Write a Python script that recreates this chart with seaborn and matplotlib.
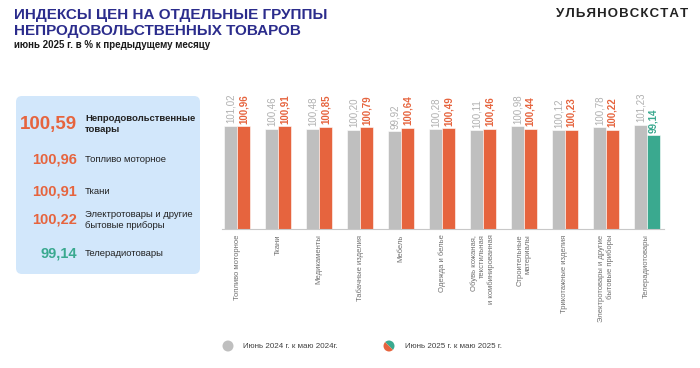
import pandas as pd
import numpy as np
from matplotlib import pyplot as plt
from matplotlib.patches import FancyBboxPatch, Circle, Wedge
import seaborn as sns

# data
categories = ['Топливо моторное', 'Ткани', 'Медикаменты', 'Табачные изделия', 'Мебель',
              'Одежда и белье', 'Обувь кожаная,\nтекстильная\nи комбинированная',
              'Строительные\nматериалы', 'Трикотажные изделия',
              'Электротовары и другие\nбытовые приборы', 'Телерадиотовары']
june2024 = [101.02, 100.46, 100.48, 100.20, 99.92, 100.28, 100.11, 100.98, 100.12, 100.78, 101.23]
june2025 = [100.96, 100.91, 100.85, 100.79, 100.64, 100.49, 100.46, 100.44, 100.23, 100.22, 99.14]
series_names = ['Июнь 2024 г. к маю 2024г.', 'Июнь 2025 г. к маю 2025 г.']

panel_values = [100.59, 100.96, 100.91, 100.22, 99.14]
panel_labels = ['Непродовольственные\nтовары', 'Топливо моторное', 'Ткани',
                'Электротовары и другие\nбытовые приборы', 'Телерадиотовары']

GRAY = '#bfbfbf'
ORANGE = '#e6643e'
TEAL = '#3aa98f'
TITLE = '#2b2c8c'
PANEL = '#d2e7fb'

sns.set_style('white')
plt.rcParams['font.family'] = ['Liberation Sans', 'DejaVu Sans']

def fmt(v):
    return f'{v:.2f}'.replace('.', ',')

def col(v):
    return ORANGE if v >= 100 else TEAL

df = pd.DataFrame({
    'cat': categories * 2,
    'value': june2024 + june2025,
    'period': [series_names[0]] * len(categories) + [series_names[1]] * len(categories),
})

fig = plt.figure(figsize=(7, 3.68), dpi=100)
ax = fig.add_axes([222 / 700, 139 / 368, 442 / 700, 0.40])

sns.barplot(data=df, x='cat', y='value', hue='period', palette=[GRAY, ORANGE],
            width=0.63, saturation=1, legend=False, ax=ax,
            edgecolor='white', linewidth=0.4)

# recolour falling values
for bar, v in zip(ax.containers[1], june2025):
    bar.set_facecolor(col(v))

for bar, v in zip(ax.containers[0], june2024):
    ax.text(bar.get_x() + bar.get_width() / 2, bar.get_height() + 0.5, fmt(v),
            rotation=90, ha='center', va='bottom', fontsize=7, color='#b0b0b0')
for bar, v in zip(ax.containers[1], june2025):
    ax.text(bar.get_x() + bar.get_width() / 2, bar.get_height() + 0.5, fmt(v),
            rotation=90, ha='center', va='bottom', fontsize=7, color=col(v),
            fontweight='bold')

ax.set_ylim(80, 110)
ax.set_xlim(-0.37, 10.42)
ax.set_yticks([])
ax.set_xlabel('')
ax.set_ylabel('')
ax.set_xticks(range(len(categories)))
ax.set_xticklabels(categories, rotation=90, fontsize=5.5, color='#707070',
                   multialignment='right')
ax.tick_params(axis='x', length=0, pad=4)
for s in ['top', 'left', 'right']:
    ax.spines[s].set_visible(False)
ax.spines['bottom'].set_color('#c8c8c8')
ax.spines['bottom'].set_linewidth(0.8)

# overlay in pixel coordinates
ov = fig.add_axes([0, 0, 1, 1], zorder=-1)
ov.set_xlim(0, 700)
ov.set_ylim(0, 368)
ov.axis('off')
Y = lambda y: 368 - y

fig.text(14 / 700, 1 - 8 / 368, 'ИНДЕКСЫ ЦЕН НА ОТДЕЛЬНЫЕ ГРУППЫ\nНЕПРОДОВОЛЬСТВЕННЫХ ТОВАРОВ',
         ha='left', va='top', fontsize=11, fontweight='bold', color=TITLE, linespacing=1.2)
fig.text(14 / 700, 1 - 45 / 368, 'июнь 2025 г. в % к предыдущему месяцу',
         ha='left', va='center', fontsize=7, fontweight='bold', color='#1a1a1a')
fig.text(688 / 700, 1 - 14 / 368, '\u200a'.join('УЛЬЯНОВСКСТАТ'), ha='right', va='center',
         fontsize=9.5, fontweight='bold', color='#222222')

# left panel
ov.add_patch(FancyBboxPatch((18, Y(272)), 180, 174, boxstyle='round,pad=2,rounding_size=6',
                            facecolor=PANEL, edgecolor='none'))
rows_y = [124, 160, 191, 220, 254]
for i, (v, lab, yy) in enumerate(zip(panel_values, panel_labels, rows_y)):
    big = i == 0
    ov.text(77, Y(yy), fmt(v), ha='right', va='center',
            fontsize=13.5 if big else 10.5, fontweight='bold', color=col(v))
    ov.text(85, Y(yy), lab, ha='left', va='center', fontsize=6.8,
            fontweight='bold' if big else 'normal', color='#222222', linespacing=1.2)

# legend
ov.add_patch(Circle((228, Y(346)), 5.5, facecolor=GRAY, edgecolor='none'))
ov.text(243, Y(346), series_names[0], ha='left', va='center', fontsize=5.8, color='#404040')
ov.add_patch(Wedge((389, Y(346)), 5.5, -45, 135, facecolor=TEAL, edgecolor='none'))
ov.add_patch(Wedge((389, Y(346)), 5.5, 135, 315, facecolor=ORANGE, edgecolor='none'))
ov.text(405, Y(346), series_names[1], ha='left', va='center', fontsize=5.8, color='#404040')

fig.savefig('out.png', dpi=100)
